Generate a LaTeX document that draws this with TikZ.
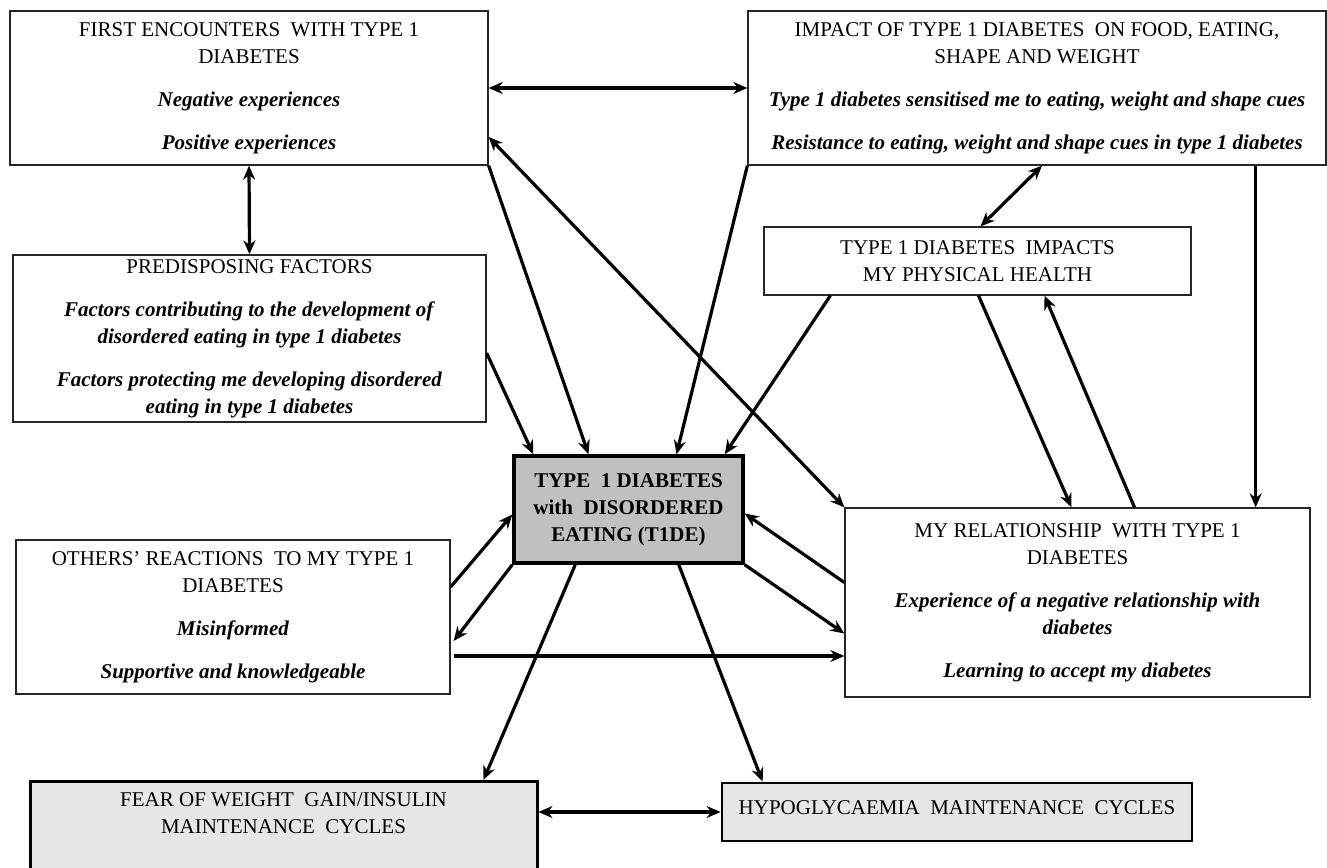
\documentclass[tikz,border=0pt]{standalone}
\usepackage{fontspec}
\setmainfont{Liberation Serif}
\usetikzlibrary{arrows.meta,positioning}
\definecolor{grisT}{HTML}{C0C0C0}
\definecolor{grisC}{HTML}{E6E6E6}
\newcommand{\subtema}[1]{\textbf{\textit{#1}}}
\tikzset{
  caja/.style={draw=black!85, line width=1.3pt, align=center, inner sep=4pt,
    font=\fontsize{21}{27}\selectfont},
  central/.style={caja, draw=black, line width=3.5pt, fill=grisT,
    font=\fontsize{21}{27}\selectfont\bfseries},
  ciclo/.style={caja, draw=black, line width=3pt, fill=grisC},
  flecha/.style={line width=3.2pt, -{Stealth[length=14pt,width=12pt]}},
  doble/.style={line width=3.2pt, {Stealth[length=14pt,width=12pt]}-{Stealth[length=14pt,width=12pt]}},
}
\begin{document}
\begin{tikzpicture}[x=1pt,y=-1pt]
    \useasboundingbox[fill=white] (0,0) rectangle (1327,867);

    % Temas de arriba
    \node[caja, minimum width=478, minimum height=154] (first) at (249,88)
      {FIRST ENCOUNTERS\ \ WITH TYPE 1\\DIABETES\\[16pt]\subtema{Negative experiences}\\[16pt]\subtema{Positive experiences}};
    \node[caja, minimum width=578, minimum height=154] (impact) at (1037,88)
      {IMPACT OF TYPE 1 DIABETES\ \ ON FOOD, EATING,\\SHAPE AND WEIGHT\\[16pt]\subtema{Type 1 diabetes sensitised me to eating, weight and shape cues}\\[16pt]\subtema{Resistance to eating, weight and shape cues in type 1 diabetes}};
    \node[caja, minimum width=473, minimum height=167] (predis) at (249.5,338.5)
      {PREDISPOSING FACTORS\\[16pt]\subtema{Factors contributing to the development of}\\\subtema{disordered eating in type 1 diabetes}\\[16pt]\subtema{Factors protecting me developing disordered}\\\subtema{eating in type 1 diabetes}};
    \node[caja, minimum width=427, minimum height=68] (health) at (977.5,261)
      {TYPE 1 DIABETES\ \ IMPACTS\\MY PHYSICAL HEALTH};

    % Tema central
    \node[central, minimum width=229, minimum height=107] (tide) at (628.5,509.5)
      {TYPE\ \ 1 DIABETES\\with\ \ DISORDERED\\EATING (T1DE)};

    % Temas de en medio
    \node[caja, minimum width=434, minimum height=154] (others) at (233,617)
      {OTHERS’ REACTIONS\ \ TO MY TYPE 1\\DIABETES\\[16pt]\subtema{Misinformed}\\[16pt]\subtema{Supportive and knowledgeable}};
    \node[caja, minimum width=465, minimum height=189] (relation) at (1077.5,602.5)
      {MY RELATIONSHIP\ \ WITH TYPE 1\\DIABETES\\[16pt]\subtema{Experience of a negative relationship with}\\\subtema{diabetes}\\[16pt]\subtema{Learning to accept my diabetes}};

    % Ciclos de mantenimiento
    \node[ciclo, minimum width=507, minimum height=100, anchor=north] (fear) at (283.5,780) {};
    \node[font=\fontsize{21}{27}\selectfont, align=center, below=9pt of fear.north] (fearlabel)
      {FEAR OF WEIGHT\ \ GAIN/INSULIN\\MAINTENANCE\ \ CYCLES};
    \node[ciclo, line width=2.8pt, minimum width=470, minimum height=58] (hypo) at (957,812)
      {\raisebox{9pt}{HYPOGLYCAEMIA\ \ MAINTENANCE\ \ CYCLES}};

    % Flechas dobles
    \draw[doble] (first.east) -- (impact.west);
    \draw[doble] (first.south) -- (predis.north);
    \draw[doble] ([yshift=-49pt]first.east) -- (relation.north west);
    \draw[doble] ([xshift=5pt]impact.south) -- ([xshift=3pt]health.north);
    \draw[doble] (hypo.west -| fear.east) -- (hypo.west);

    % Flechas hacia T1DE
    \draw[flecha] (first.south east) -- ([xshift=-40pt]tide.north);
    \draw[flecha] (impact.south west) -- ([xshift=48pt]tide.north);
    \draw[flecha] ([yshift=-14.5pt]predis.east) -- ([xshift=21pt]tide.north west);
    \draw[flecha] ([xshift=67pt]health.south west) -- ([xshift=-20pt]tide.north east);
    \draw[flecha] ([yshift=20pt]relation.west) -- ([yshift=-4pt]tide.east);
    \draw[flecha] ([yshift=30pt]others.east) -- ([yshift=-5pt]tide.west);

    % Flechas desde T1DE
    \draw[flecha] (tide.south east) -- ([yshift=-31pt]relation.west);
    \draw[flecha] (tide.south west) -- ([xshift=3pt,yshift=-24pt]others.east);
    \draw[flecha] ([xshift=63pt]tide.south west) -- ([xshift=-55pt]fear.north east);
    \draw[flecha] ([xshift=-66pt]tide.south east) -- ([xshift=42pt]hypo.north west);

    % Otras flechas
    \draw[flecha] ([xshift=3pt,yshift=-39pt]others.east) -- ([yshift=-53.5pt]relation.west);
    \draw[flecha] ([xshift=-71pt]impact.south east) -- ([xshift=-55pt]relation.north east);
    \draw[flecha] ([xshift=1pt]health.south) -- ([xshift=-6pt]relation.north);
    \draw[flecha] ([xshift=57pt]relation.north) -- ([xshift=67pt]health.south);
  \end{tikzpicture}
\end{document}
